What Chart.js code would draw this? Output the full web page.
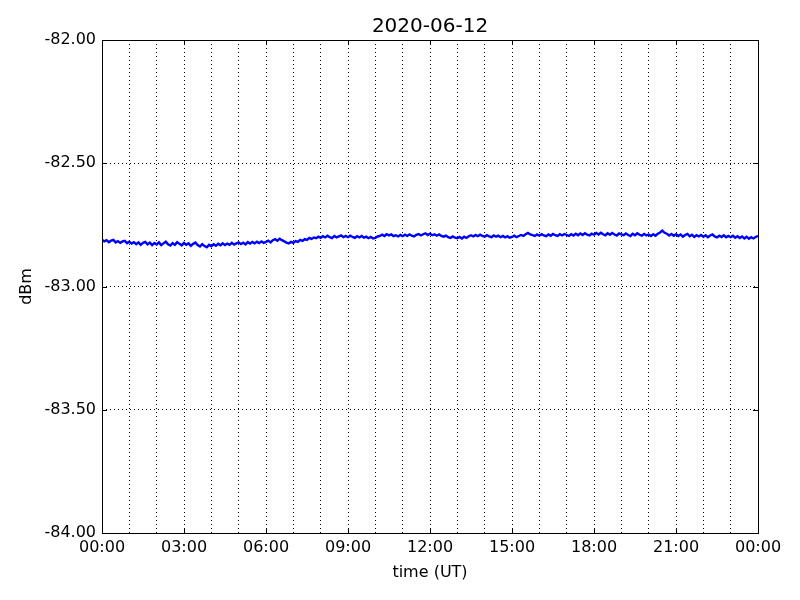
<!DOCTYPE html>
<html lang="en">
    <head>
        <meta charset="utf-8" />
        <script src="https://cdn.jsdelivr.net/npm/chart.js@4.4.1/dist/chart.umd.min.js"></script>
        <title>2020-06-12</title>
        <style>
            body { margin: 0; background: #fff; }
            #wrap { width: 800px; height: 600px; }
        </style>
    </head>
    <body>
        <div id="wrap"><canvas id="grafico" width="800" height="600"></canvas></div>
        <script>
            // signal level, one reading every 5 minutes, one row per hour
            const titulo = "2020-06-12";
            const stepMinutes = 5;
            const dbm = [
                -82.810,-82.817,-82.812,-82.820,-82.814,-82.811,-82.821,-82.816,-82.823,-82.817,-82.815,-82.824,
                -82.818,-82.826,-82.820,-82.828,-82.821,-82.831,-82.823,-82.819,-82.829,-82.822,-82.832,-82.824,
                -82.830,-82.821,-82.832,-82.825,-82.818,-82.829,-82.834,-82.824,-82.831,-82.820,-82.827,-82.833,
                -82.823,-82.831,-82.825,-82.835,-82.827,-82.822,-82.832,-82.838,-82.828,-82.836,-82.841,-82.831,
                -82.837,-82.829,-82.835,-82.827,-82.833,-82.825,-82.832,-82.826,-82.831,-82.823,-82.830,-82.825,
                -82.821,-82.828,-82.822,-82.829,-82.820,-82.826,-82.819,-82.825,-82.818,-82.824,-82.817,-82.823,
                -82.819,-82.814,-82.821,-82.812,-82.808,-82.814,-82.806,-82.812,-82.817,-82.822,-82.825,-82.819,
                -82.823,-82.816,-82.819,-82.811,-82.815,-82.808,-82.811,-82.803,-82.807,-82.801,-82.804,-82.798,
                -82.803,-82.796,-82.801,-82.794,-82.800,-82.804,-82.795,-82.801,-82.797,-82.793,-82.800,-82.795,
                -82.800,-82.794,-82.799,-82.803,-82.796,-82.801,-82.795,-82.802,-82.798,-82.804,-82.799,-82.805,
                -82.803,-82.797,-82.795,-82.790,-82.795,-82.788,-82.793,-82.789,-82.796,-82.792,-82.797,-82.791,
                -82.796,-82.790,-82.795,-82.789,-82.794,-82.797,-82.790,-82.787,-82.793,-82.788,-82.784,-82.791,
                -82.786,-82.792,-82.788,-82.794,-82.789,-82.795,-82.798,-82.794,-82.800,-82.803,-82.797,-82.802,
                -82.804,-82.799,-82.805,-82.798,-82.803,-82.796,-82.792,-82.797,-82.791,-82.796,-82.790,-82.795,
                -82.798,-82.792,-82.797,-82.800,-82.793,-82.798,-82.794,-82.800,-82.795,-82.801,-82.796,-82.802,
                -82.799,-82.794,-82.800,-82.795,-82.791,-82.795,-82.788,-82.783,-82.789,-82.792,-82.795,-82.789,
                -82.794,-82.788,-82.793,-82.796,-82.789,-82.794,-82.787,-82.792,-82.795,-82.788,-82.793,-82.787,
                -82.791,-82.795,-82.788,-82.793,-82.786,-82.792,-82.785,-82.791,-82.784,-82.790,-82.793,-82.786,
                -82.790,-82.783,-82.789,-82.782,-82.788,-82.792,-82.784,-82.790,-82.783,-82.789,-82.793,-82.785,
                -82.789,-82.792,-82.785,-82.791,-82.795,-82.786,-82.792,-82.784,-82.790,-82.794,-82.787,-82.793,
                -82.789,-82.795,-82.788,-82.794,-82.786,-82.781,-82.773,-82.782,-82.786,-82.793,-82.787,-82.794,
                -82.788,-82.795,-82.789,-82.798,-82.791,-82.787,-82.796,-82.790,-82.799,-82.792,-82.797,-82.791,
                -82.798,-82.792,-82.800,-82.793,-82.789,-82.797,-82.801,-82.794,-82.799,-82.792,-82.800,-82.795,
                -82.800,-82.794,-82.802,-82.796,-82.803,-82.797,-82.805,-82.798,-82.806,-82.800,-82.805,-82.799,
                -82.795
            ];
            const yTicks = [-84, -83.5, -83, -82.5, -82];
            const xTickHours = [0, 3, 6, 9, 12, 15, 18, 21, 24];

            const puntos = dbm.map((v, i) => ({ x: i * stepMinutes / 60, y: v }));

            // marco negro, marcas hacia adentro y titulo centrado sobre el area del grafico
            const marco = {
                id: "marco",
                afterDraw(chart) {
                    const { ctx, chartArea: a, scales } = chart;
                    ctx.save();
                    ctx.strokeStyle = "#000";
                    ctx.lineWidth = 1;
                    ctx.strokeRect(Math.round(a.left) + 0.5, Math.round(a.top) + 0.5,
                        Math.round(a.right - a.left), Math.round(a.bottom - a.top));
                    ctx.beginPath();
                    xTickHours.forEach(h => {
                        const px = Math.round(scales.x.getPixelForValue(h)) + 0.5;
                        ctx.moveTo(px, a.bottom); ctx.lineTo(px, a.bottom - 5);
                        ctx.moveTo(px, a.top); ctx.lineTo(px, a.top + 5);
                    });
                    yTicks.forEach(v => {
                        const py = Math.round(scales.y.getPixelForValue(v)) + 0.5;
                        ctx.moveTo(a.left, py); ctx.lineTo(a.left + 5, py);
                        ctx.moveTo(a.right, py); ctx.lineTo(a.right - 5, py);
                    });
                    ctx.stroke();
                    ctx.fillStyle = "#000";
                    ctx.font = "20px 'DejaVu Sans', sans-serif";
                    ctx.textAlign = "center";
                    ctx.textBaseline = "middle";
                    ctx.fillText(titulo, (a.left + a.right) / 2, 27);
                    ctx.restore();
                }
            };

            Chart.defaults.font.family = "'DejaVu Sans', sans-serif";
            Chart.defaults.color = "#000";

            new Chart(document.getElementById("grafico").getContext("2d"), {
                type: "line",
                data: {
                    datasets: [{
                        label: "dBm",
                        data: puntos,
                        borderColor: "#0000ff",
                        borderWidth: 2.4,
                        pointRadius: 0,
                        tension: 0
                    }]
                },
                options: {
                    responsive: false,
                    animation: false,
                    layout: { padding: { left: 0, right: 42, top: 40, bottom: 0 } },
                    plugins: {
                        legend: { display: false },
                        tooltip: { enabled: false },
                        title: { display: false }
                    },
                    scales: {
                        x: {
                            type: "linear",
                            min: 0,
                            max: 24,
                            afterFit: s => { s.height = 67; },
                            ticks: {
                                stepSize: 1,
                                autoSkip: false,
                                maxRotation: 0,
                                padding: 5,
                                font: { size: 16 },
                                callback: v => xTickHours.includes(v) ? String(v % 24).padStart(2, "0") + ":00" : ""
                            },
                            grid: { color: "#000", lineWidth: 1, drawTicks: false },
                            border: { display: false, dash: [1, 3] },
                            title: { display: true, text: "time (UT)", font: { size: 16 }, padding: { top: 0, bottom: 18 } }
                        },
                        y: {
                            min: -84,
                            max: -82,
                            afterFit: s => { s.width = 102; },
                            afterBuildTicks: s => { s.ticks = yTicks.map(v => ({ value: v })); },
                            ticks: {
                                padding: 6,
                                font: { size: 16 },
                                callback: v => v.toFixed(2)
                            },
                            grid: { color: "#000", lineWidth: 1, drawTicks: false },
                            border: { display: false, dash: [1, 3] },
                            title: { display: true, text: "dBm", font: { size: 16 }, padding: { top: 17, bottom: 0 } }
                        }
                    }
                },
                plugins: [marco]
            });
        </script>
    </body>
</html>
